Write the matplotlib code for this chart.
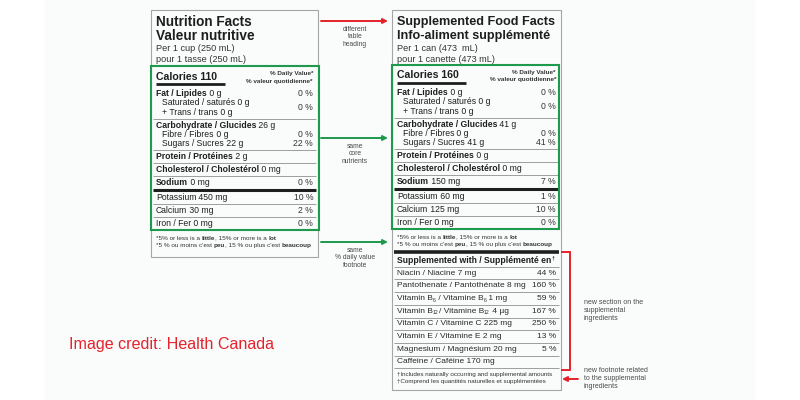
import re
import matplotlib
matplotlib.use('Agg')
import matplotlib.pyplot as plt
from matplotlib.patches import Rectangle

plt.rcParams['font.family'] = ['Liberation Sans', 'DejaVu Sans']

# ---- data ----
left_title = ["Nutrition Facts", "Valeur nutritive"]
left_serving = ["Per 1 cup (250 mL)", "pour 1 tasse (250 mL)"]
right_title = ["Supplemented Food Facts", "Info-aliment supplémenté"]
right_serving = ["Per 1 can (473  mL)", "pour 1 canette (473 mL)"]
calories = [110, 160]
dv_header = ["% Daily Value*", "% valeur quotidienne*"]

core_names = ["Fat / Lipides", "Saturated / saturés", "+ Trans / trans",
              "Carbohydrate / Glucides", "Fibre / Fibres", "Sugars / Sucres",
              "Protein / Protéines", "Cholesterol / Cholestérol", "Sodium",
              "Potassium", "Calcium", "Iron / Fer"]
core_bold = [1, 0, 0, 1, 0, 0, 1, 1, 1, 0, 0, 0]
core_indent = [0, 1, 1, 0, 1, 1, 0, 0, 0, 0, 0, 0]
core_group = [0, 0, 0, 1, 1, 1, 2, 3, 4, 5, 6, 7]
left_amount = ["0 g", "0 g", "0 g", "26 g", "0 g", "22 g", "2 g", "0 mg",
               "0 mg", "450 mg", "30 mg", "0 mg"]
right_amount = ["0 g", "0 g", "0 g", "41 g", "0 g", "41 g", "0 g", "0 mg",
                "150 mg", "60 mg", "125 mg", "0 mg"]
left_dv = ["0 %", "0 %", "", "", "0 %", "22 %", "", "", "0 %", "10 %", "2 %", "0 %"]
right_dv = ["0 %", "0 %", "", "", "0 %", "41 %", "", "", "7 %", "1 %", "10 %", "0 %"]

dv_note = [[("*5% or less is a ", 0), ("little", 1), (", 15% or more is a ", 0), ("lot", 1)],
           [("*5 % ou moins c'est ", 0), ("peu", 1), (", 15 % ou plus c'est ", 0), ("beaucoup", 1)]]

supp_header = "Supplemented with / Supplémenté en"
supp_names = ["Niacin / Niacine 7 mg", "Pantothenate / Pantothénate 8 mg",
              "Vitamin B_6 / Vitamine B_6 1 mg", "Vitamin B_12/ Vitamine B_12 4 µg",
              "Vitamin C / Vitamine C 225 mg", "Vitamin E / Vitamine E 2 mg",
              "Magnesium / Magnésium 20 mg", "Caffeine / Caféine 170 mg"]
supp_dv = ["44 %", "160 %", "59 %", "167 %", "250 %", "13 %", "5 %", ""]
supp_note = ["†Includes naturally occurring and supplemental amounts",
             "†Comprend les quantités naturelles et supplémentées"]

callouts = [["different", "table", "heading"],
            ["same", "core", "nutrients"],
            ["same", "% daily value", "footnote"]]
bracket_note = ["new section on the", "supplemental", "ingredients"]
footnote_note = ["new footnote related", "to the supplemental", "ingredients"]
credit = "Image credit: Health Canada"

RED = '#e5222b'
GREEN = '#1e9a4c'
INK = '#1e1e1e'
GREY = '#8f8f8f'

fig = plt.figure(figsize=(8, 4), dpi=100)
ax = fig.add_axes([0, 0, 1, 1])
ax.set_xlim(0, 800)
ax.set_ylim(400, 0)
ax.axis('off')

ax.add_patch(Rectangle((45, 0), 710, 400, facecolor='#fafbfb', edgecolor='none', zorder=0))


def write(x, y, parts, size, color=INK):
    # parts: (text, bold, scale, dy) chained left to right
    prev = None
    for s, b, sc, dy in parts:
        kw = dict(fontsize=size * sc, fontweight='bold' if b else 'normal',
                  color=color, ha='left', va='center')
        if prev is None:
            prev = ax.text(x, y + dy, s, **kw)
        else:
            prev = ax.annotate(s, xy=(1, y + dy), xycoords=(prev, 'data'), **kw)
    return prev


def hline(x0, x1, y, lw=0.6, color=GREY):
    ax.plot([x0, x1], [y, y], color=color, lw=lw, solid_capstyle='butt', zorder=2)


def draw_table(bx0, bx1, top, bottom, gtop, gx1, title, title_size, serving,
               kcal, amounts, dvs):
    tx = bx0 + 5
    dx = bx1 - 5
    lx0, lx1 = bx0 + 2, bx1 - 2
    ax.add_patch(Rectangle((bx0, top), bx1 - bx0, bottom - top, fill=False,
                           edgecolor='#a5a5a5', lw=0.8, zorder=1))
    ax.text(tx, top + 11.5, title[0], fontsize=title_size, fontweight='bold', color=INK, va='center')
    ax.text(tx, top + 26.5, title[1], fontsize=title_size, fontweight='bold', color=INK, va='center')
    ax.text(tx, top + 38.5, serving[0], fontsize=6.6, color='#333333', va='center')
    ax.text(tx, top + 49.5, serving[1], fontsize=6.6, color='#333333', va='center')

    ax.text(tx, gtop + 10.5, "Calories %d" % kcal, fontsize=7.6, fontweight='bold', color=INK, va='center')
    ax.text(dx, gtop + 7.5, dv_header[0], fontsize=4.6, fontweight='bold', color='#333333', ha='right', va='center')
    ax.text(dx, gtop + 15, dv_header[1], fontsize=4.6, fontweight='bold', color='#333333', ha='right', va='center')
    hline(tx, tx + 69, gtop + 18.2, lw=2.0, color=INK)

    y = gtop + 21
    half, sub = 6.5, 9.3
    ys = []
    g_prev = None
    for i, name in enumerate(core_names):
        g = core_group[i]
        if g != g_prev:
            if g_prev is not None:
                y += half
                if g == 5:
                    hline(lx0, lx1, y + 0.5, lw=2.2, color=INK)
                    y += 1.0
                else:
                    hline(lx0, lx1, y)
            y += half + (1.0 if g == 5 else 0)
        else:
            y += sub
        g_prev = g
        ys.append(y)
        x = tx + (6 if core_indent[i] else 0)
        write(x, y, [(name, core_bold[i], 1, 0), (" " + amounts[i], 0, 1, 0)], 6.2)
    gbot = y + half

    for i, d in enumerate(dvs):
        if not d:
            continue
        yy = ys[i]
        if i + 1 < len(core_names) and core_names[i + 1].startswith('+'):
            yy = (ys[i] + ys[i + 1]) / 2
        ax.text(dx, yy, d, fontsize=6.2, color='#333333', ha='right', va='center')

    ax.add_patch(Rectangle((bx0, gtop), gx1 - bx0, gbot - gtop, fill=False,
                           edgecolor=GREEN, lw=1.5, zorder=3))
    for k, runs in enumerate(dv_note):
        write(tx, gbot + 8 + k * 7.5, [(s, b, 1, 0) for s, b in runs], 4.6, '#333333')
    return gbot, tx, dx, lx0, lx1


draw_table(151, 318, 10, 257, 66, 319, left_title, 9.8, left_serving,
           calories[0], left_amount, left_dv)
gbot, tx, dx, lx0, lx1 = draw_table(392, 561, 10, 390, 65, 559, right_title, 9.1,
                                    right_serving, calories[1], right_amount, right_dv)

# supplemented section
bar = gbot + 22.5
hline(lx0, lx1, bar, lw=2.6, color=INK)
yh = bar + 8.5
write(tx, yh, [(supp_header, 1, 1, 0), ("†", 1, 0.6, -2)], 6.2)
y = yh + 6.5
hline(lx0, lx1, y)
pitch = 12.7
for i, name in enumerate(supp_names):
    yr = y + pitch / 2 + i * pitch
    bits = re.split(r'_(\d+)', name)
    parts = []
    for j, b in enumerate(bits):
        if j % 2:
            parts.append((b, 0, 0.62, 1.8))
        elif b:
            parts.append((b, 0, 1, 0))
    write(tx, yr, parts, 6.0, '#2a2a2a')
    if supp_dv[i]:
        ax.text(dx, yr, supp_dv[i], fontsize=6.0, color='#2a2a2a', ha='right', va='center')
    hline(lx0, lx1, yr + pitch / 2)
yn = y + len(supp_names) * pitch
for k, s in enumerate(supp_note):
    ax.text(tx, yn + 6.5 + k * 7, s, fontsize=4.5, color='#333333', va='center')

# arrows between the tables
arrow_y = [21, 138, 242]
arrow_col = [RED, GREEN, GREEN]
for ay, col, lines in zip(arrow_y, arrow_col, callouts):
    ax.annotate('', xy=(388, ay), xytext=(321, ay),
                arrowprops=dict(arrowstyle='-|>', color=col, lw=1.4, mutation_scale=7,
                                shrinkA=0, shrinkB=0))
    for k, s in enumerate(lines):
        ax.text(355, ay + 8.5 + k * 7.3, s, fontsize=4.9, color='#4a4a4a', ha='center', va='center')

# red bracket around supplemented section
ax.plot([562, 570, 570, 562], [252, 252, 370, 370], color=RED, lw=1.4, solid_joinstyle='miter')
for k, s in enumerate(bracket_note):
    ax.text(584, 303 + k * 8, s, fontsize=5.0, color='#4a4a4a', va='center')
ax.annotate('', xy=(562, 379), xytext=(578, 379),
            arrowprops=dict(arrowstyle='-|>', color=RED, lw=1.4, mutation_scale=7,
                            shrinkA=0, shrinkB=0))
for k, s in enumerate(footnote_note):
    ax.text(584, 371 + k * 7.5, s, fontsize=5.0, color='#4a4a4a', va='center')

ax.text(69, 344, credit, fontsize=11.6, color=RED, va='center')

fig.savefig('out.png', dpi=100)
